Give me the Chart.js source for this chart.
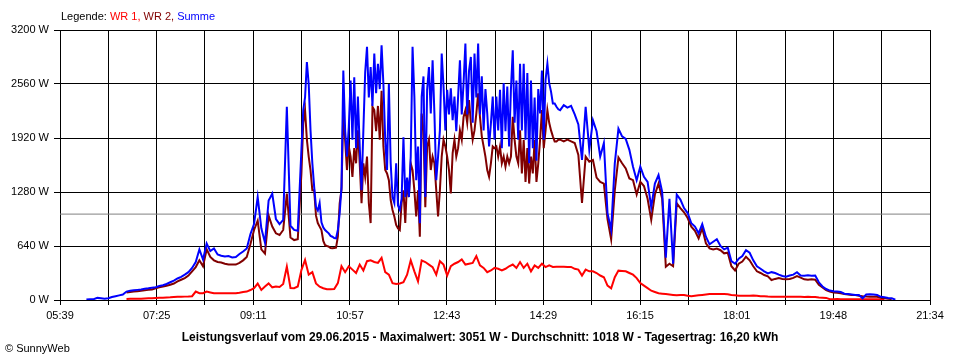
<!DOCTYPE html>
<html>
<head>
<meta charset="utf-8">
<script src="https://cdn.jsdelivr.net/npm/chart.js@4"></script>
<style>
  body { margin: 0; background: #fff; }
  #wrap { width: 960px; height: 360px; position: relative; }
</style>
</head>
<body>
<div id="wrap"><canvas id="chart"></canvas></div>
<script>
// achse: minuten seit mitternacht, 05:39 .. 21:34
var X_MIN = 339, X_MAX = 1294;
var X_LABELS = ['05:39','07:25','09:11','10:57','12:43','14:29','16:15','18:01','19:48','21:34'];
var Y_LABEL_UNIT = ' W';

// abschnitte: frueh 06:08 alle 4 min, mitte 10:04 alle 2 min, spaet 14:52 alle 4 min
var FRUEH_START = 368, FRUEH_STEP = 4;
var MITTE_START = 604, MITTE_STEP = 2;
var SPAET_START = 892, SPAET_STEP = 4;

var summeFrueh = [
  5,10,10,25,20,15,20,35,45,55,
  65,100,110,115,120,125,132,138,145,152,
  165,175,190,210,230,255,275,300,330,380,
  450,600,480,670,580,610,540,525,515,520,
  505,510,545,575,610,780,900,1220,850,680,
  1180,1260,960,900,950,2290,880,830,820
];
var summeMitte = [
  1780,2250,2400,2820,2560,2010,1620,1340,1100,1060,
  1150,920,860,830,810,790,760,750,735,730,
  830,1030,1340,2720,2010,1700,2050,2600,1900,2640,
  1800,2410,1820,1300,2010,2700,3000,2400,2760,2300,
  2920,2450,2800,2500,3020,2560,1900,1540,2560,1620,
  1220,1150,1620,1120,1070,1200,1930,1220,1450,1220,
  1700,3000,2410,1420,1820,910,2410,2650,1220,2490,
  2760,2210,2840,2210,1420,1700,2010,2920,2530,2010,
  2490,2200,2510,2130,2410,2000,2410,2840,2200,2570,
  3040,2200,2720,2880,2100,2920,2400,3040,2200,2650,
  2010,2500,2210,1820,2090,2410,1900,2410,2010,2490,
  1800,2570,2000,2530,1820,2500,2960,2100,2600,1900,
  2800,2010,2800,1900,2690,1620,2600,1800,2400,1650,
  2500,2210,2720,1900,2610,2800,2570,2470,2330,2330,
  2290,2260,2250
];
var summeSpaet = [
  2310,2280,2300,2200,2080,1660,2290,1780,2130,
  2000,1700,1860,1030,830,1620,2030,1940,1910,1780,
  1580,1420,1580,1460,1400,1100,1380,1480,1280,500,
  1200,430,1250,1190,1090,1030,910,870,790,900,
  750,660,690,720,640,600,620,460,430,490,
  520,590,560,470,400,370,340,316,330,320,
  300,284,276,290,300,330,290,288,292,288,
  290,210,160,130,112,105,100,95,75,70,
  65,60,60,20,65,68,65,60,38,32,
  25,20,5
];

var wr2Frueh = [
  null,null,null,null,null,null,null,null,null,null,
  null,90,95,100,105,110,115,120,125,140,
  150,160,170,180,195,220,240,260,290,340,
  390,470,400,600,510,470,450,445,430,420,
  420,420,440,470,510,660,830,940,600,550,
  1000,870,790,770,830,1260,740,710,720
];
var wr2Mitte = [
  1500,2100,2250,1900,1700,1540,1300,1300,1000,912,
  870,830,700,650,640,632,615,612,615,620,
  750,1146,1304,2250,1890,1540,1820,1700,1460,1800,
  1620,2010,1620,1146,1620,1460,1700,1146,912,2290,
  2250,2000,2300,1900,2480,1820,1540,1500,1420,1185,
  1067,990,890,850,830,1150,1300,912,1420,1220,
  1620,1540,1300,990,1300,750,2210,2010,1100,1820,
  1900,1540,1700,1620,1304,990,1300,1700,1900,1820,
  1700,1540,1264,1740,1900,1700,1800,2010,1900,2170,
  2250,2100,2370,2100,1900,2010,2210,2450,2170,1940,
  1820,1700,1540,1460,1620,1820,1800,1820,1700,1820,
  1620,1700,1580,1700,1620,1700,2170,1900,1700,1620,
  2010,1500,1900,1400,1800,1380,1700,1500,1900,1400,
  1620,1900,2250,1800,2010,2250,2100,2010,1940,1880,
  1880,1900,1900
];
var wr2Spaet = [
  1880,1900,1880,1860,1720,1150,1700,1640,1660,
  1450,1400,1380,960,720,1300,1690,1620,1560,1440,
  1420,1250,1400,1350,1200,950,1250,1380,1200,395,
  430,400,1146,1090,1040,972,870,820,730,850,
  672,612,600,610,590,553,560,400,350,430,
  455,513,470,400,340,320,296,280,237,250,
  260,250,245,250,262,284,265,245,240,245,
  240,180,150,118,99,90,85,80,70,65,
  60,58,50,45,42,40,40,38,25,20,
  15,10,null
];

// WR 1 durchgehend alle 4 min ab 06:08
var wr1 = [
  null,null,null,null,null,null,null,null,null,null,
  null,12,15,15,15,15,18,20,22,25,
  28,28,30,32,35,38,39,40,42,45,
  100,80,80,100,90,80,80,80,80,79,
  79,80,85,95,100,118,140,195,120,160,
  197,150,160,155,190,395,142,140,160,355,
  474,300,330,197,158,140,128,126,130,200,
  400,330,400,360,320,420,350,460,470,450,
  440,500,330,300,200,190,195,210,300,470,
  340,220,470,450,420,390,300,460,420,290,
  400,430,450,480,420,430,440,520,410,380,
  330,350,380,370,350,370,400,420,380,450,
  380,430,340,410,380,430,390,410,392,395,
  395,395,392,392,370,360,290,360,340,340,
  320,290,270,170,138,270,348,345,340,320,
  300,260,200,170,140,110,95,80,75,70,
  65,60,55,60,60,50,45,50,55,60,
  65,70,70,70,72,70,68,60,55,50,
  50,50,50,52,50,45,45,42,40,40,
  40,40,40,40,40,39,38,37,38,36,
  35,30,28,25,10,10,12,10,10,10,
  10,10,10,8,8,8,8,8,6,5,
  null,null,null
];

var durchschnitt = 1018;
var caption = 'Leistungsverlauf vom 29.06.2015 - Maximalwert: 3051 W - Durchschnitt: 1018 W - Tagesertrag: 16,20 kWh';

var FONT = '"Liberation Sans", Arial, sans-serif';

function toPoints(arr, start, step){
    var out = [];
    for(var i = 0; i < arr.length; ++i)
        out.push({x: start + i*step, y: arr[i]});
    return out;
}

function segments(frueh, mitte, spaet){
    return toPoints(frueh, FRUEH_START, FRUEH_STEP)
        .concat(toPoints(mitte, MITTE_START, MITTE_STEP))
        .concat(toPoints(spaet, SPAET_START, SPAET_STEP));
}

// gitter alle halbe beschriftung
var gridVals = [];
for(var k = 0; k <= 18; ++k)
    gridVals.push(X_MIN + k*(X_MAX - X_MIN)/18);

var textPlugin = {
    id: 'texte',
    afterDraw: function(c){
        var ctx = c.ctx;
        ctx.save();
        ctx.textBaseline = 'alphabetic';
        ctx.font = '11px ' + FONT;
        var parts = [['Legende: ','#000000'],['WR 1, ','#ff0000'],['WR 2, ','#800000'],['Summe','#0000ff']];
        var x = 61;
        for(var i = 0; i < parts.length; ++i){
            ctx.fillStyle = parts[i][1];
            ctx.fillText(parts[i][0], x, 20);
            x += ctx.measureText(parts[i][0]).width;
        }
        ctx.fillStyle = '#000';
        ctx.font = 'bold 12px ' + FONT;
        ctx.textAlign = 'center';
        ctx.fillText(caption, 480, 341);
        ctx.textAlign = 'left';
        ctx.font = '11px ' + FONT;
        ctx.fillText('\u00A9 SunnyWeb', 5, 352);
        ctx.restore();
    }
};

var chart = new Chart(document.getElementById('chart').getContext('2d'), {
    type: 'line',
    data: {
        datasets: [
            {label: 'Summe', data: segments(summeFrueh, summeMitte, summeSpaet), borderColor: '#0000ff', borderWidth: 2, order: 1},
            {label: 'WR 2', data: segments(wr2Frueh, wr2Mitte, wr2Spaet), borderColor: '#800000', borderWidth: 2, order: 2},
            {label: 'WR 1', data: toPoints(wr1, FRUEH_START, FRUEH_STEP), borderColor: '#ff0000', borderWidth: 2, order: 3},
            {label: 'Durchschnitt', data: [{x: X_MIN, y: durchschnitt},{x: X_MAX, y: durchschnitt}], borderColor: '#808080', borderWidth: 1, order: 4}
        ]
    },
    options: {
        animation: false,
        responsive: true,
        maintainAspectRatio: false,
        parsing: false,
        elements: {point: {radius: 0}, line: {tension: 0}},
        layout: {padding: {top: 30, right: 30, left: 0, bottom: 0}},
        plugins: {legend: {display: false}, tooltip: {enabled: false}},
        scales: {
            x: {
                type: 'linear', min: X_MIN, max: X_MAX,
                afterBuildTicks: function(s){ s.ticks = gridVals.map(function(v){ return {value: v}; }); },
                afterFit: function(s){ s.height = 60; },
                ticks: {
                    autoSkip: false, maxRotation: 0, minRotation: 0, color: '#000', padding: 4,
                    font: {family: FONT, size: 11},
                    callback: function(v, i){ return i % 2 ? '' : X_LABELS[i/2]; }
                },
                grid: {color: '#000', lineWidth: 1, tickLength: 5, tickColor: '#000'},
                border: {color: '#000'}
            },
            y: {
                min: 0, max: 3200,
                afterFit: function(s){ s.width = 60; },
                ticks: {
                    stepSize: 640, color: '#000', padding: 5,
                    font: {family: FONT, size: 11},
                    callback: function(v){ return v + Y_LABEL_UNIT; }
                },
                grid: {color: '#000', lineWidth: 1, tickLength: 6, tickColor: '#000'},
                border: {color: '#000'}
            }
        }
    },
    plugins: [textPlugin]
});
</script>
</body>
</html>
